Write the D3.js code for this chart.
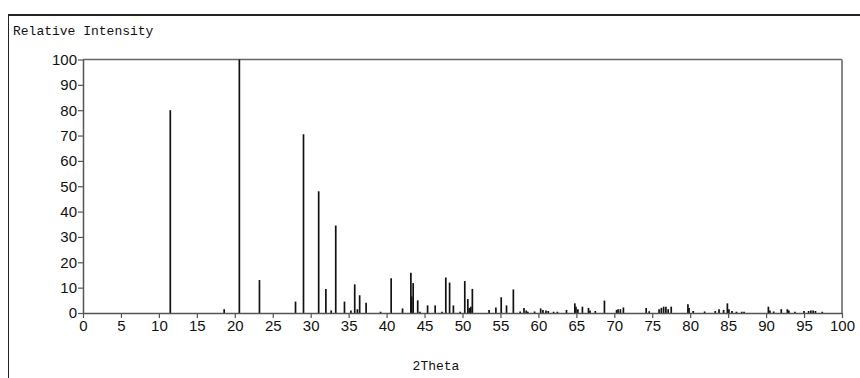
<!DOCTYPE html>
<html>
<head>
<meta charset="utf-8">
<script src="https://cdn.jsdelivr.net/npm/d3@7"></script>
<style>
  html, body { margin: 0; padding: 0; background: #fff; }
  svg { display: block; }
</style>
</head>
<body>
<svg id="chart" width="860" height="378"></svg>
<script>
// peak positions (2theta, deg) and relative intensities
const twoTheta = [
  11.5, 18.6, 20.6, 23.25, 28.0, 29.05, 31.05, 32.0, 32.7, 33.3,
  34.45, 35.3, 35.8, 36.15, 36.45, 37.3, 39.2, 40.6, 42.1, 43.2,
  43.3, 43.5, 44.1, 44.4, 45.4, 46.4, 47.3, 47.8, 48.3, 48.8,
  49.7, 50.3, 50.7, 50.9, 51.1, 51.3, 53.5, 54.4, 55.1, 55.8,
  56.7, 57.6, 58.1, 58.4, 58.6, 59.5, 60.3, 60.6, 61.0, 61.3,
  62.0, 62.5, 63.7, 64.8, 64.95, 65.2, 65.8, 66.6, 66.8, 67.5,
  68.7, 70.3, 70.5, 70.8, 71.2, 74.2, 74.6, 75.9, 76.2, 76.5,
  76.8, 77.1, 77.5, 79.7, 79.85, 80.4, 81.9, 83.3, 83.8, 84.4,
  84.9, 85.1, 85.5, 86.1, 86.8, 87.1, 90.3, 90.5, 91.0, 92.0,
  92.8, 93.0, 93.8, 95.0, 95.6, 95.9, 96.2, 96.5, 97.4
];
const intensity = [
  80, 1.5, 100, 13, 4.5, 70.5, 48, 9.5, 1, 34.5,
  4.5, 1, 11.3, 1.5, 7, 4, 0.5, 13.7, 1.8, 15.9,
  6.5, 11.8, 5, 0.5, 3, 3, 0.5, 14, 12, 3,
  0.5, 12.6, 5.5, 2, 2.5, 9.5, 1.2, 2.2, 6.2, 3,
  9.3, 0.6, 2, 1, 0.5, 0.6, 1.8, 1.2, 1, 0.8,
  0.5, 0.5, 1.2, 3.8, 2.5, 1.5, 2.5, 2, 1, 0.8,
  4.9, 1.2, 1.5, 1.5, 2.2, 2, 0.7, 1.5, 2, 2.5,
  2.5, 1.5, 2.5, 3.5, 2, 0.8, 0.6, 0.8, 1.5, 1.2,
  3.8, 1.5, 0.8, 0.5, 0.5, 0.5, 2.5, 1, 0.6, 1.5,
  1.5, 1, 0.5, 0.8, 0.8, 1, 1, 0.8, 0.5
];
const xTicks = d3.range(0, 101, 5);
const yTicks = d3.range(0, 101, 10);
const yTitle = 'Relative Intensity';
const xTitle = '2Theta';

const peaks = twoTheta.map((t, i) => ({ t, v: intensity[i] }));

const W = 860, H = 378;
const m = { left: 83, right: 842, top: 59.5, bottom: 313 };

const svg = d3.select('#chart');

const x = d3.scaleLinear().domain([0, 100]).range([m.left, m.right]);
const y = d3.scaleLinear().domain([0, 100]).range([m.bottom, m.top]);

// outer frame (top + left edges)
svg.append('line')
  .attr('x1', 8).attr('x2', W).attr('y1', 15).attr('y2', 15)
  .attr('stroke', '#222').attr('stroke-width', 2);
svg.append('line')
  .attr('x1', 8.5).attr('x2', 8.5).attr('y1', 15).attr('y2', H)
  .attr('stroke', '#222').attr('stroke-width', 1);

svg.append('text')
  .attr('x', 13).attr('y', 35)
  .attr('font-family', '"Liberation Mono", "DejaVu Sans Mono", monospace')
  .attr('font-size', 13).attr('fill', '#111')
  .text(yTitle);

svg.append('text')
  .attr('x', 436).attr('y', 370)
  .attr('text-anchor', 'middle')
  .attr('font-family', '"Liberation Mono", "DejaVu Sans Mono", monospace')
  .attr('font-size', 13).attr('fill', '#111')
  .text(xTitle);

// plot frame: top and right in grey
svg.append('line')
  .attr('x1', m.left).attr('x2', m.right).attr('y1', m.top).attr('y2', m.top)
  .attr('stroke', '#666').attr('stroke-width', 1.5);
svg.append('line')
  .attr('x1', m.right).attr('x2', m.right).attr('y1', m.top).attr('y2', m.bottom)
  .attr('stroke', '#888').attr('stroke-width', 2);

// sticks
svg.append('g').selectAll('line').data(peaks).enter().append('line')
  .attr('x1', d => x(d.t)).attr('x2', d => x(d.t))
  .attr('y1', y(0)).attr('y2', d => y(d.v))
  .attr('stroke', '#111').attr('stroke-width', 1.7);

const tickFont = '"Liberation Sans", Arial, sans-serif';

const xAxis = svg.append('g')
  .attr('transform', `translate(0,${m.bottom})`)
  .call(d3.axisBottom(x).tickValues(xTicks).tickSize(5).tickPadding(2).tickSizeOuter(0));
const yAxis = svg.append('g')
  .attr('transform', `translate(${m.left},0)`)
  .call(d3.axisLeft(y).tickValues(yTicks).tickSize(5).tickPadding(1).tickSizeOuter(0));

[xAxis, yAxis].forEach(a => {
  a.select('.domain').attr('stroke', '#555').attr('stroke-width', 1.5);
  a.selectAll('.tick line').attr('stroke', '#555').attr('stroke-width', 1.2);
  a.selectAll('.tick text')
    .attr('font-family', tickFont).attr('font-size', 15).attr('fill', '#111');
});
</script>
</body>
</html>
